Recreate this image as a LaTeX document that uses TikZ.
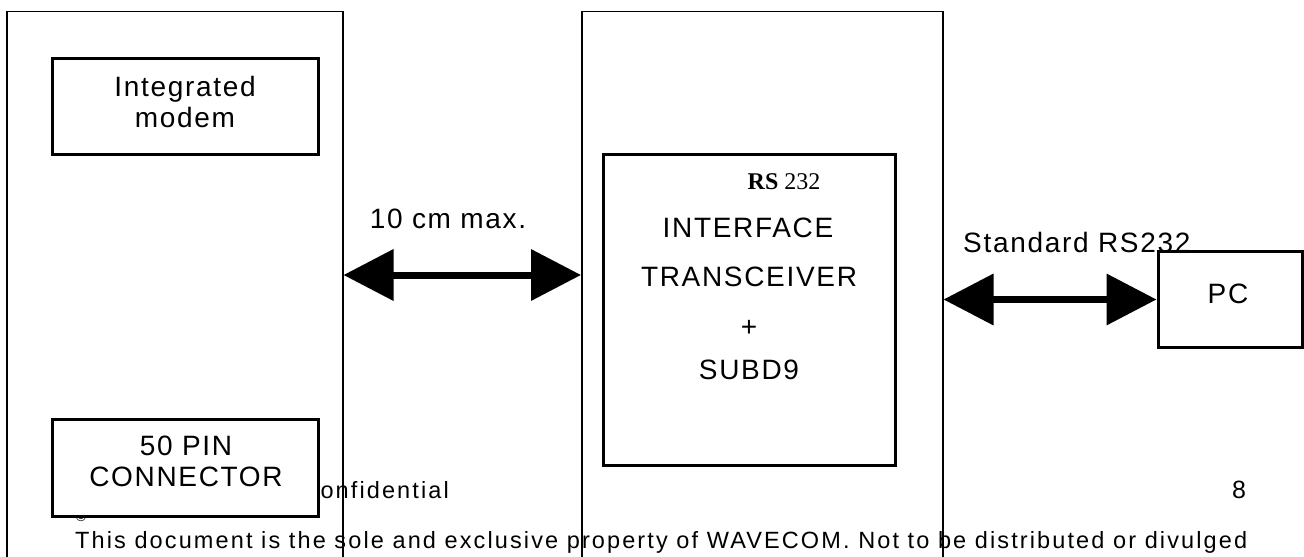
\documentclass[tikz,border=0pt]{standalone}
\usepackage{fontspec}
\setmainfont{Liberation Sans}[LetterSpace=6]
\newfontfamily\footsans{Liberation Sans}[LetterSpace=9]
\newfontfamily\rsserif{Liberation Serif}
\usetikzlibrary{arrows.meta}
\newcommand\dgmfont{\fontsize{28bp}{31bp}\selectfont}
\newcommand\footfont{\footsans\fontsize{23.5bp}{27bp}\selectfont}
\begin{document}
\begin{tikzpicture}[x=1bp,y=-1bp,
  outer/.style={draw,line width=1.5bp,minimum height=640bp,anchor=north west,inner sep=0pt},
  box/.style={draw,line width=3bp,fill=white,inner sep=0pt},
  lbl/.style={inner sep=0pt,anchor=base,font=\dgmfont},
  foot/.style={inner sep=0pt,font=\footfont},
  biarrow/.style={line width=7bp,{Triangle[length=50bp,width=50bp]}-{Triangle[length=50bp,width=50bp]}}]
\clip (0,0) rectangle (1304,557);
\fill[white] (0,0) rectangle (1304,557);
% footer texts (partly covered)
\node[foot,anchor=base east] (conf) at (449,498) {confidential};
\node[inner sep=0pt,anchor=base,font=\fontsize{14bp}{16bp}\selectfont] (copy) at (81,521) {©};
\node[foot,anchor=base west] (legal) at (75,548) {This document is the sole and exclusive property of WAVECOM. Not to be distributed or divulged};
\node[inner sep=0pt,anchor=base,font=\fontsize{25bp}{30bp}\selectfont] (page) at (1239,498) {8};
% outer units
\node[outer,minimum width=336bp] (modemunit) at (6,11) {};
\node[outer,minimum width=361bp] (ifaceunit) at (581,11) {};
% inner boxes
\node[box,minimum width=265bp,minimum height=96bp] (modem) at (185.5,107) {};
\node[lbl] (modemA) at (185,97) {Integrated};
\node[lbl] (modemB) at (185,128) {modem};
\node[box,minimum width=265bp,minimum height=97bp] (conn) at (185.5,467.5) {};
\node[lbl] (connA) at (186,455) {50 PIN};
\node[lbl] (connB) at (186,486) {CONNECTOR};
\node[box,minimum width=292bp,minimum height=310bp] (iface) at (749,310) {};
\node[lbl,font=\rsserif\fontsize{24bp}{28bp}\selectfont] (rs) at (784,190) {\textbf{RS} 232};
\node[lbl] (ifA) at (748,238) {INTERFACE};
\node[lbl] (ifB) at (749,286) {TRANSCEIVER};
\node[lbl] (ifC) at (749,336) {+};
\node[lbl] (ifD) at (749,379) {SUBD9};
\node[box,minimum width=144bp,minimum height=95bp] (pc) at (1230,299.5) {};
\node[lbl] (pcA) at (1228,303) {PC};
% arrows
\coordinate (levelA) at (0,275);
\draw[biarrow] (modemunit.east |- levelA) -- (ifaceunit.west |- levelA);
\node[lbl] (lenlbl) at (448,229) {10 cm max.};
\draw[biarrow] (ifaceunit.east |- pc.west) -- (pc.west);
\node[lbl,anchor=base west] (stdlbl) at (963,253) {Standard RS232};
\end{tikzpicture}
\end{document}
